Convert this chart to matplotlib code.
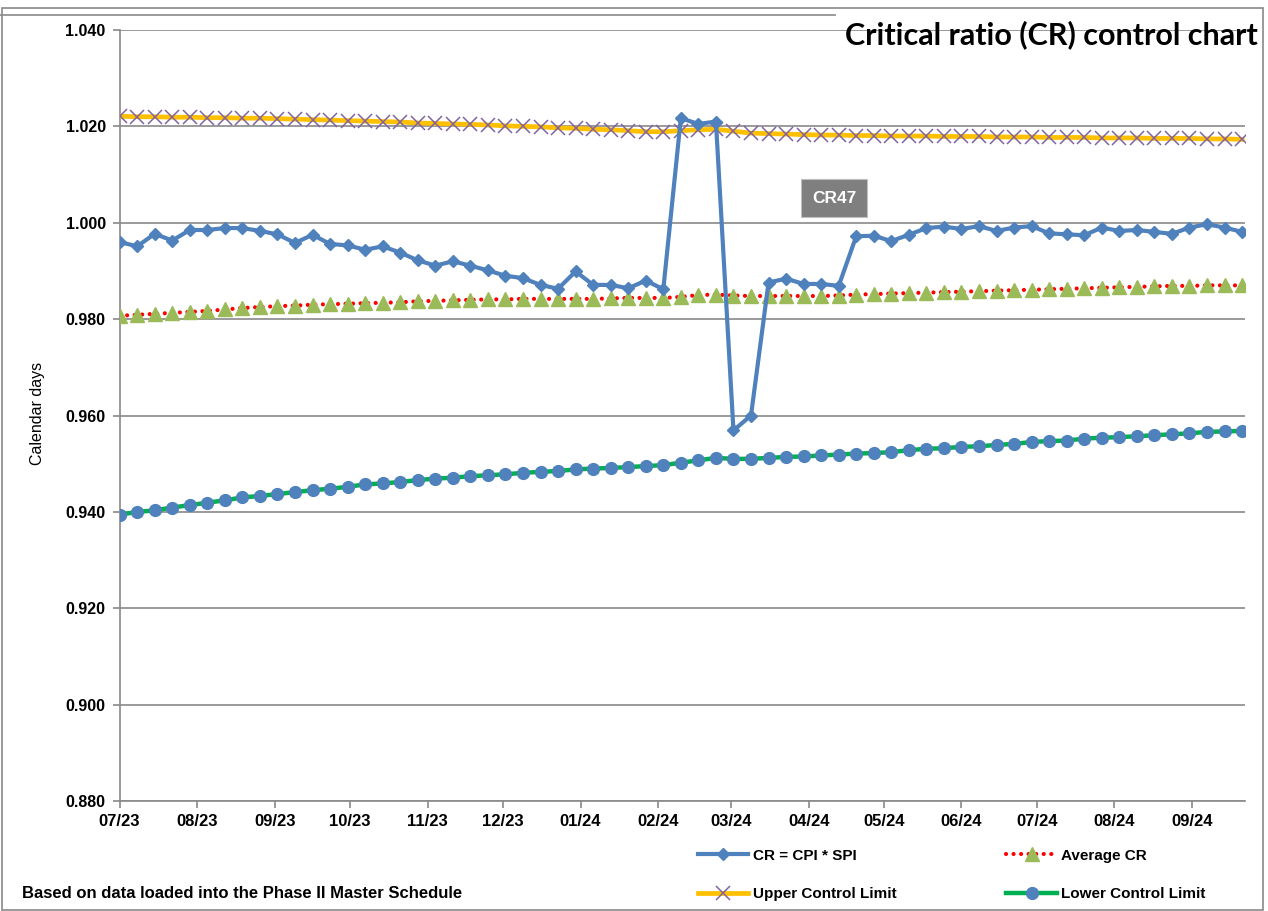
import numpy as np
import pandas as pd
import matplotlib
matplotlib.use('Agg')
import matplotlib.pyplot as plt
import matplotlib.dates as mdates
from matplotlib.lines import Line2D
from matplotlib.patches import Rectangle

plt.rcParams['font.family'] = ['Liberation Sans', 'DejaVu Sans']

#%% Datos semanales (status de cada sabado)
fechas = pd.date_range('2023-07-01', periods=65, freq='7D')

# CR = CPI * SPI
cr = [0.9960, 0.9951, 0.9977, 0.9963, 0.9985, 0.9985, 0.9989, 0.9989, 0.9983, 0.9976,
      0.9958, 0.9975, 0.9956, 0.9953, 0.9944, 0.9951, 0.9938, 0.9922, 0.9911, 0.9920,
      0.9911, 0.9901, 0.9890, 0.9885, 0.9871, 0.9863, 0.9899, 0.9871, 0.9871, 0.9864,
      0.9880, 0.9862, 1.0217, 1.0205, 1.0210, 0.9569, 0.9600, 0.9876, 0.9884, 0.9873,
      0.9873, 0.9869, 0.9972, 0.9973, 0.9962, 0.9975, 0.9989, 0.9992, 0.9987, 0.9993,
      0.9983, 0.9990, 0.9993, 0.9978, 0.9976, 0.9974, 0.9990, 0.9983, 0.9985, 0.9981,
      0.9977, 0.9990, 0.9997, 0.9990, 0.9981]

cr_prom = [0.9807, 0.9809, 0.9811, 0.9813, 0.9815, 0.9817, 0.9820, 0.9823, 0.9825, 0.9827,
           0.9828, 0.9830, 0.9831, 0.9832, 0.9833, 0.9834, 0.9835, 0.9837, 0.9838, 0.9839,
           0.9840, 0.9841, 0.9841, 0.9842, 0.9842, 0.9842, 0.9842, 0.9842, 0.9843, 0.9844,
           0.9844, 0.9844, 0.9846, 0.9850, 0.9851, 0.9849, 0.9848, 0.9848, 0.9848, 0.9848,
           0.9848, 0.9849, 0.9851, 0.9852, 0.9853, 0.9854, 0.9855, 0.9856, 0.9857, 0.9858,
           0.9859, 0.9860, 0.9861, 0.9862, 0.9863, 0.9864, 0.9865, 0.9866, 0.9867, 0.9868,
           0.9869, 0.9869, 0.9870, 0.9870, 0.9870]

ucl = [1.0221, 1.0220, 1.0220, 1.0219, 1.0219, 1.0218, 1.0218, 1.0217, 1.0217, 1.0216,
       1.0215, 1.0214, 1.0213, 1.0212, 1.0211, 1.0210, 1.0209, 1.0207, 1.0206, 1.0205,
       1.0204, 1.0203, 1.0201, 1.0200, 1.0199, 1.0197, 1.0196, 1.0194, 1.0193, 1.0191,
       1.0189, 1.0189, 1.0191, 1.0193, 1.0194, 1.0190, 1.0186, 1.0185, 1.0184, 1.0183,
       1.0182, 1.0182, 1.0181, 1.0181, 1.0180, 1.0180, 1.0180, 1.0179, 1.0179, 1.0179,
       1.0178, 1.0178, 1.0178, 1.0177, 1.0177, 1.0177, 1.0176, 1.0176, 1.0176, 1.0175,
       1.0175, 1.0175, 1.0174, 1.0174, 1.0173]

lcl = [0.9394, 0.9400, 0.9403, 0.9409, 0.9414, 0.9419, 0.9424, 0.9430, 0.9433, 0.9437,
       0.9441, 0.9445, 0.9448, 0.9452, 0.9457, 0.9459, 0.9462, 0.9466, 0.9469, 0.9471,
       0.9474, 0.9476, 0.9478, 0.9481, 0.9483, 0.9485, 0.9488, 0.9490, 0.9491, 0.9493,
       0.9495, 0.9497, 0.9502, 0.9507, 0.9512, 0.9510, 0.9510, 0.9512, 0.9514, 0.9515,
       0.9517, 0.9519, 0.9521, 0.9522, 0.9524, 0.9528, 0.9531, 0.9532, 0.9535, 0.9536,
       0.9539, 0.9541, 0.9545, 0.9547, 0.9548, 0.9552, 0.9554, 0.9555, 0.9557, 0.9559,
       0.9561, 0.9563, 0.9566, 0.9567, 0.9568]

etiquetas = ['CR = CPI * SPI', 'Average CR', 'Upper Control Limit', 'Lower Control Limit']

#%% Grafico
W, H = 1268, 911
fig = plt.figure(figsize=(W / 100, H / 100), dpi=100)
ax = fig.add_axes([119.6 / W, 1 - 801 / H, 1125 / W, 771 / H])

gris = '#898989'
azul = '#4f81bd'

ax.plot(fechas, lcl, color='#00b050', lw=3.2, marker='o', ms=8.5,
        mfc=azul, mec=azul, zorder=3)
ax.plot(fechas, ucl, color='#ffc000', lw=3.4, marker='x', ms=9.5,
        mec='#8064a2', mew=1.1, zorder=3)
ax.plot(fechas, cr_prom, color='#ff0000', lw=3, ls=(0, (0.01, 1.8)),
        dash_capstyle='round', marker='^', ms=10, mfc='#9bbb59', mec='#9bbb59', zorder=4)
ax.plot(fechas, cr, color=azul, lw=3, marker='D', ms=6, mfc=azul, mec=azul, zorder=5)

ax.set_ylim(0.880, 1.040)
ax.set_yticks(np.arange(0.880, 1.0401, 0.020))
ax.yaxis.set_major_formatter(plt.FormatStrFormatter('%.3f'))
ax.set_xlim(fechas[0], fechas[0] + pd.Timedelta(days=449))
ax.xaxis.set_major_locator(mdates.MonthLocator())
ax.xaxis.set_major_formatter(mdates.DateFormatter('%m/%y'))

ax.grid(axis='y', color=gris, lw=1.2)
ax.set_axisbelow(True)
for lado in ['top', 'right']:
    ax.spines[lado].set_visible(False)
for lado in ['left', 'bottom']:
    ax.spines[lado].set_color(gris)
    ax.spines[lado].set_linewidth(1.2)
ax.tick_params(axis='y', length=5, color=gris, width=1.2, labelsize=11.5, pad=5)
ax.tick_params(axis='x', length=5, color=gris, width=1.2, labelsize=12, pad=4)
for t in ax.get_xticklabels() + ax.get_yticklabels():
    t.set_fontweight('bold')

ax.set_ylabel('Calendar days', fontsize=11.5)
ax.yaxis.set_label_coords((45 - 119.6) / 1125, 0.503)

ax.text(0.635, 0.782, 'CR47', transform=ax.transAxes, ha='center', va='center',
        color='white', fontsize=12.5, fontweight='bold',
        bbox=dict(boxstyle='square,pad=0.65', fc='#7f7f7f', ec='#bfbfbf', lw=0.8))

# leyenda abajo, 2 columnas
h_cr = Line2D([], [], color=azul, lw=3, marker='D', ms=6, mfc=azul, mec=azul)
h_prom = Line2D([], [], color='#ff0000', lw=3, ls=(0, (0.01, 1.8)), dash_capstyle='round',
                marker='^', ms=10, mfc='#9bbb59', mec='#9bbb59')
h_ucl = Line2D([], [], color='#ffc000', lw=3.4, marker='x', ms=9.5, mec='#8064a2', mew=1.1)
h_lcl = Line2D([], [], color='#00b050', lw=3.2, marker='o', ms=8.5, mfc=azul, mec=azul)
fig.legend([h_cr, h_ucl, h_prom, h_lcl],
           [etiquetas[0], etiquetas[2], etiquetas[1], etiquetas[3]],
           ncol=2, loc='upper left', bbox_to_anchor=(684 / W, 1 - 835 / H),
           frameon=False, handlelength=3.3, handletextpad=0.3, columnspacing=7.2,
           labelspacing=1.6, numpoints=1, prop={'size': 11, 'weight': 'bold'})

fig.text(22 / W, 1 - 894 / H, 'Based on data loaded into the Phase II Master Schedule',
         fontsize=12, fontweight='bold', va='center')

# marco y titulo
fig.add_artist(Rectangle((2 / W, 1 / H), 1261 / W, 902 / H, transform=fig.transFigure,
                         fill=False, ec=gris, lw=1.2))
fig.add_artist(Line2D([0, 835 / W], [1 - 15 / H, 1 - 15 / H], transform=fig.transFigure,
                      color=gris, lw=1.2))
fig.text(1258 / W, 1 - 35 / H, 'Critical ratio (CR) control chart',
         family=['Liberation Sans Narrow', 'Lato', 'DejaVu Sans'],
         fontsize=22, fontweight='bold', ha='right', va='center')

fig.savefig('out.png', dpi=100)
